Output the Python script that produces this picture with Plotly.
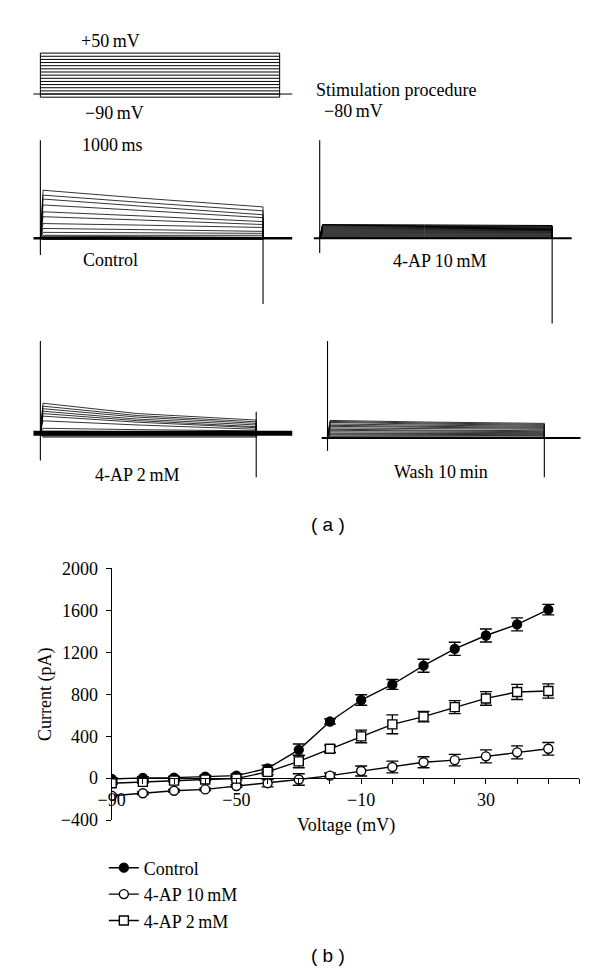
import plotly.graph_objects as go

W, H = 600, 980

# ---------------- data ----------------
# stimulation protocol (mV / ms)
step_mv = [-90, -80, -70, -60, -50, -40, -30, -20, -10, 0, 10, 20, 30, 40, 50]
holding_mv = -80
step_ms = 1000
holding_span_ms = [-29, 1053]

# I-V curve (b)
voltage_mv = [-90, -80, -70, -60, -50, -40, -30, -20, -10, 0, 10, 20, 30, 40, 50]
control_pa = [-8, 3, 5, 15, 24, 93, 270, 540, 745, 893, 1072, 1233, 1360, 1466, 1607]
control_err = [12, 12, 12, 12, 15, 30, 55, 25, 50, 47, 62, 62, 62, 62, 50]
ap10_pa = [-168, -144, -120, -107, -75, -48, -13, 24, 68, 106, 152, 172, 208, 246, 280]
ap10_err = [12, 12, 12, 12, 12, 35, 55, 25, 48, 56, 52, 55, 62, 62, 60]
ap2_pa = [-48, -35, -23, -13, -4, 60, 160, 280, 398, 513, 587, 677, 760, 822, 831]
ap2_err = [12, 12, 12, 12, 12, 28, 60, 35, 60, 90, 50, 62, 65, 72, 68]

# current traces of panel (a), pA, from +50 mV step down to -90 mV step
trace_t_ms = [0, 12, 450, 1000]
ctrl_peak = [2450, 2200, 2000, 1700, 1350, 1100, 750, 500, 300, 150, 100, 50, -20, -40, -60]
ctrl_mid = [2050, 1830, 1640, 1420, 1140, 930, 670, 440, 280, 150, 80, 40, -20, -40, -60]
ctrl_end = [1600, 1400, 1200, 1050, 850, 700, 550, 350, 250, 150, 50, 20, -20, -40, -60]
ap10_peak = [700, 660, 620, 570, 520, 470, 420, 370, 320, 270, 220, 170, 120, 70, 20]
ap10_mid = [680, 640, 600, 555, 505, 460, 410, 362, 312, 265, 215, 165, 115, 65, 15]
ap10_end = [650, 615, 580, 535, 490, 445, 400, 355, 305, 260, 210, 160, 110, 60, 10]
ap2_peak = [1530, 1380, 1250, 1120, 1000, 870, 630, 250, 100, 50, 0, -50, -100, -150, -200]
ap2_mid = [1000, 900, 820, 720, 640, 560, 420, 180, 80, 40, 0, -50, -100, -150, -200]
ap2_end = [670, 580, 500, 420, 330, 280, 200, 120, 60, 30, 0, -50, -100, -150, -200]
wash_peak = [900, 850, 800, 720, 650, 600, 520, 450, 400, 320, 250, 200, 150, 75, 25]
wash_mid = [820, 770, 720, 660, 600, 550, 485, 410, 360, 300, 238, 188, 138, 68, 22]
wash_end = [750, 700, 650, 600, 550, 500, 450, 375, 325, 275, 225, 175, 125, 60, 20]

panel_names = ["Control", "4-AP 10\u2009mM", "4-AP 2\u2009mM", "Wash 10\u2009min"]
spike_on_top = [5000, 5000, 4700, 4950]
spike_on_bottom = [-850, -750, -1400, -650]
spike_off_top = [0, 0, 1100, 0]
spike_off_bottom = [-3350, -4350, -2250, -2000]
base_start_ms = [-31, -25, -32, -27]
base_end_ms = [1131, 1084, 1167, 1167]

# ---------------- layout helpers (pixel geometry) ----------------
SERIF = "Liberation Serif"
SANS = "Liberation Sans"


def px(x):
    return x / W


def py(y):
    return 1 - y / H


def time_range(x0, x1000):
    s = (x1000 - x0) / 1000.0
    return [(0 - x0) / s, (W - x0) / s]


def current_range(base_px, pa_per_px=50.0):
    return [(base_px - H) * pa_per_px, base_px * pa_per_px]


fig = go.Figure()
LINE = dict(color="black", width=1.0)

# ---- protocol (axis pair 1) ----
for v in step_mv:
    fig.add_trace(go.Scatter(x=[0, step_ms], y=[v, v], mode="lines", line=LINE,
                             showlegend=False, hoverinfo="skip", xaxis="x", yaxis="y"))
for t in [0, step_ms]:
    fig.add_trace(go.Scatter(x=[t, t], y=[min(step_mv), max(step_mv)], mode="lines", line=LINE,
                             showlegend=False, hoverinfo="skip", xaxis="x", yaxis="y"))
fig.add_trace(go.Scatter(x=holding_span_ms, y=[holding_mv, holding_mv], mode="lines", line=LINE,
                         showlegend=False, hoverinfo="skip", xaxis="x", yaxis="y"))

# ---- current traces (axis pairs 2..5) ----
panel_data = [
    (ctrl_peak, ctrl_mid, ctrl_end),
    (ap10_peak, ap10_mid, ap10_end),
    (ap2_peak, ap2_mid, ap2_end),
    (wash_peak, wash_mid, wash_end),
]
base_width = [2.5, 2.0, 5.0, 2.0]
trace_width = [0.8, 1.0, 0.8, 0.85]
trace_color = ["black", "black", "black", "#111111"]
for k, (pk, md, en) in enumerate(panel_data):
    xa, ya = f"x{k + 2}", f"y{k + 2}"
    fig.add_trace(go.Scatter(x=[base_start_ms[k], base_end_ms[k]], y=[0, 0], mode="lines",
                             line=dict(color="black", width=base_width[k]),
                             showlegend=False, hoverinfo="skip", xaxis=xa, yaxis=ya))
    for p, m, e in zip(pk, md, en):
        fig.add_trace(go.Scatter(x=trace_t_ms + [trace_t_ms[-1]], y=[0, p, m, e, 0], mode="lines",
                                 line=dict(color=trace_color[k], width=trace_width[k]),
                                 showlegend=False, hoverinfo="skip", xaxis=xa, yaxis=ya))
    fig.add_trace(go.Scatter(x=[0, 0], y=[spike_on_bottom[k], spike_on_top[k]], mode="lines",
                             line=dict(color="black", width=1.1),
                             showlegend=False, hoverinfo="skip", xaxis=xa, yaxis=ya))
    fig.add_trace(go.Scatter(x=[step_ms, step_ms], y=[spike_off_bottom[k], spike_off_top[k]], mode="lines",
                             line=dict(color="black", width=1.1),
                             showlegend=False, hoverinfo="skip", xaxis=xa, yaxis=ya))

# ---- I-V curve (axis pair 6) ----
series = [
    ("Control", control_pa, control_err, dict(symbol="circle", size=9, color="black",
                                                line=dict(color="black", width=1.3))),
    ("4-AP 10\u2009mM", ap10_pa, ap10_err, dict(symbol="circle", size=9, color="white",
                                                 line=dict(color="black", width=1.4))),
    ("4-AP 2\u2009mM", ap2_pa, ap2_err, dict(symbol="square", size=9, color="white",
                                              line=dict(color="black", width=1.4))),
]
for i, (name, vals, err, mk) in enumerate(series):
    fig.add_trace(go.Scatter(
        x=voltage_mv, y=vals, name=name, mode="lines+markers",
        line=dict(color="black", width=1.4), marker=mk,
        error_y=dict(type="data", array=err, color="black", thickness=1.4, width=6),
        legendgroup=f"g{i}", xaxis="x6", yaxis="y6"))

# ---------------- axes ----------------
hidden = dict(visible=False, showgrid=False, zeroline=False, domain=[0, 1], fixedrange=True)
k_mv = 45.0 / 140.0  # px per mV in protocol
layout_axes = {
    "xaxis": dict(hidden, range=time_range(27, 272), anchor="y"),
    "yaxis": dict(hidden, range=[50 - (H - 44) / k_mv, 50 + 44 / k_mv], anchor="x"),
    "xaxis2": dict(hidden, range=time_range(27, 255), anchor="y2"),
    "yaxis2": dict(hidden, range=current_range(233), anchor="x2"),
    "xaxis3": dict(hidden, range=time_range(313, 551), anchor="y3"),
    "yaxis3": dict(hidden, range=current_range(233), anchor="x3"),
    "xaxis4": dict(hidden, range=time_range(27, 248), anchor="y4"),
    "yaxis4": dict(hidden, range=current_range(432), anchor="x4"),
    "xaxis5": dict(hidden, range=time_range(321, 543), anchor="y5"),
    "yaxis5": dict(hidden, range=current_range(437), anchor="x5"),
}

ydom = [py(827), py(570)]
y_lo, y_hi = -400, 2000
x_axis_pos = ydom[0] + (0 - y_lo) / (y_hi - y_lo) * (ydom[1] - ydom[0])
tick_font = dict(family=SERIF, size=18, color="black")
layout_axes["xaxis6"] = dict(
    domain=[px(100), px(579)], range=[-90, 60], anchor="free", position=x_axis_pos,
    showline=True, linecolor="black", linewidth=1.3, showgrid=False, zeroline=False,
    tickmode="array", tickvals=[-90, -50, -10, 30], ticks="outside", ticklen=5,
    tickwidth=1.3, tickcolor="black", tickfont=tick_font,
    minor=dict(tickmode="linear", tick0=-90, dtick=10, ticks="outside", ticklen=5,
               tickwidth=1.3, tickcolor="black", showgrid=False),
    fixedrange=True)
layout_axes["yaxis6"] = dict(
    domain=ydom, range=[y_lo, y_hi], anchor="x6",
    showline=True, linecolor="black", linewidth=1.3, showgrid=False, zeroline=False,
    tickmode="array", tickvals=[-400, 0, 400, 800, 1200, 1600, 2000], ticks="outside",
    ticklen=5, tickwidth=1.3, tickcolor="black", tickfont=tick_font, ticklabelstandoff=4,
    fixedrange=True)

# ---------------- text ----------------
ann = []


def label(text, x, y, xanchor="center", size=18, family=SERIF, angle=0):
    ann.append(dict(text=text, x=px(x), y=py(y), xref="paper", yref="paper",
                    xanchor=xanchor, yanchor="middle", showarrow=False, textangle=angle,
                    font=dict(family=family, size=size, color="black")))


label("+50\u2009mV", 99, 32)
label("\u221290\u2009mV", 103, 105)
label("1000\u2009ms", 101, 138)
label("Stimulation procedure", 307, 82, xanchor="left")
label("\u221280\u2009mV", 315, 103, xanchor="left")
label(panel_names[0], 99, 255)
label(panel_names[1], 436, 256)
label(panel_names[2], 126, 475)
label(panel_names[3], 437, 472)
label("( a )", 322, 525, family=SANS, size=19)
label("( b )", 322, 965, family=SANS, size=19)
label("Voltage (mV)", 340, 832)
label("Current (pA)", 32, 699, angle=-90)

fig.update_layout(
    width=W, height=H, margin=dict(l=0, r=0, t=0, b=0),
    paper_bgcolor="white", plot_bgcolor="rgba(0,0,0,0)",
    font=dict(family=SERIF, size=18, color="black"),
    annotations=ann,
    showlegend=True,
    legend=dict(x=px(92), y=py(857), xanchor="left", yanchor="top",
                bgcolor="rgba(0,0,0,0)", borderwidth=0, tracegroupgap=0,
                font=dict(family=SERIF, size=18, color="black"), itemwidth=30),
    **layout_axes,
)

fig.write_html("out.html", config={"displayModeBar": False},
               post_script="document.body.style.margin='0';")
